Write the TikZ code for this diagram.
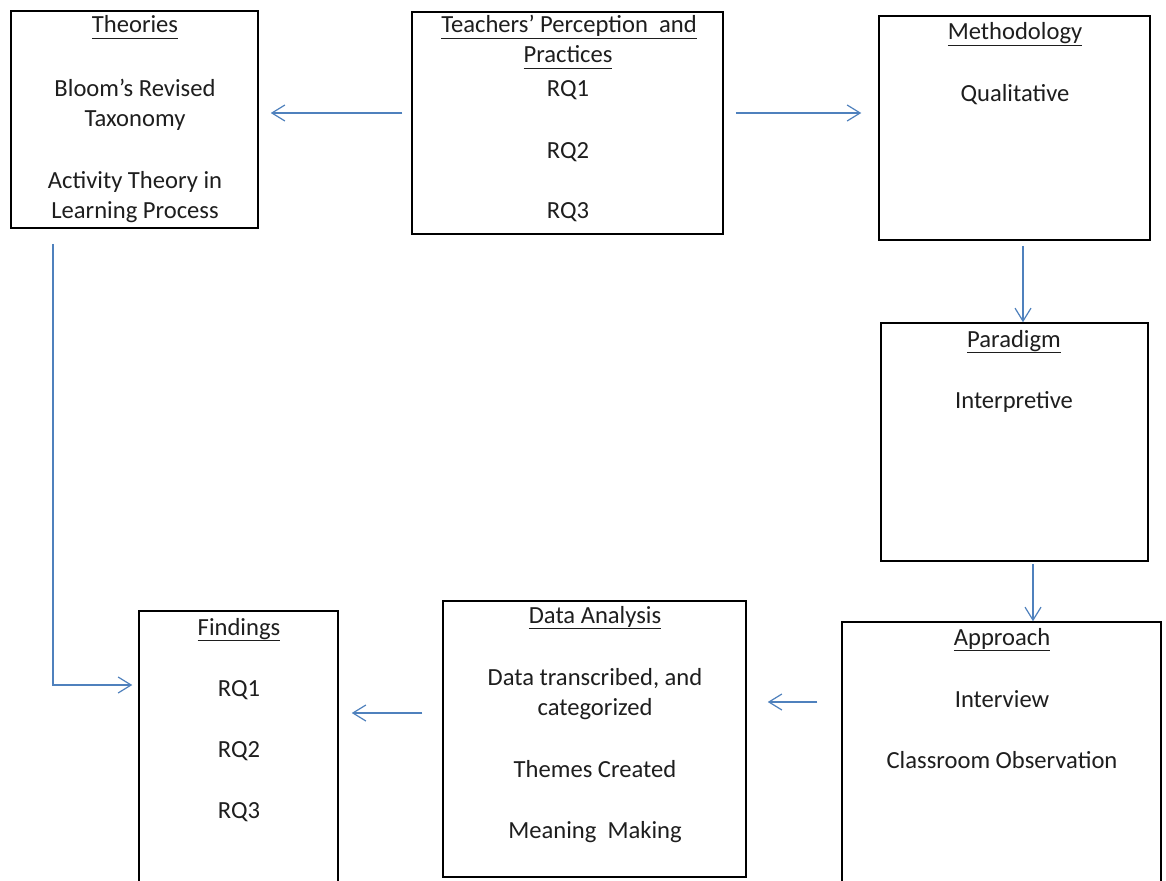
\documentclass[tikz,border=0pt]{standalone}
\usepackage{fontspec}
\setmainfont{Carlito}
\usetikzlibrary{arrows.meta}
\definecolor{arrowblue}{RGB}{79,129,189}
\definecolor{txt}{RGB}{30,30,30}
\newsavebox\ulbox
\newcommand\myul[1]{\sbox\ulbox{#1}\rlap{\rule[-6pt]{\wd\ulbox}{1.3pt}}\usebox\ulbox}
\begin{document}
\begin{tikzpicture}[x=1pt,y=-1pt,
  box/.style={draw=black,line width=1.5pt,rectangle,inner sep=0pt},
  lbl/.style={anchor=base,inner sep=0pt,text=txt,font=\fontsize{24.6}{29}\selectfont},
  arr/.style={draw=arrowblue,line width=1.2pt,-{Straight Barb[length=13pt,width=16pt,line width=1.2pt]}}]
\useasboundingbox (0,0) rectangle (1166,880);
\fill[white] (0,0) rectangle (1166,880);
\clip (0,0) rectangle (1166,880);

% boxes
\node[box,minimum width=247pt,minimum height=217pt] (theories) at (134.5,119.5) {};
\node[box,minimum width=311pt,minimum height=222pt] (teachers) at (567.5,123) {};
\node[box,minimum width=271pt,minimum height=224pt] (method) at (1014.5,128) {};
\node[box,minimum width=267pt,minimum height=238pt] (paradigm) at (1014.5,442) {};
\node[box,minimum width=319pt,minimum height=278pt] (approach) at (1001.5,761) {};
\node[box,minimum width=303pt,minimum height=276pt] (analysis) at (594.5,739) {};
\node[box,minimum width=199pt,minimum height=289pt] (findings) at (238.5,755.5) {};

% Theories
\node[lbl] (th0) at (135,33) {\myul{Theories}};
\node[lbl] (th1) at (135,97) {Bloom’s Revised};
\node[lbl] (th2) at (135,127) {Taxonomy};
\node[lbl] (th3) at (135,188) {Activity Theory in};
\node[lbl] (th4) at (135,218) {Learning Process};

% Teachers
\node[lbl] (te0) at (569,33) {\myul{Teachers’ Perception\ \ and}};
\node[lbl] (te1) at (568,63) {\myul{Practices}};
\node[lbl] (te2) at (568,97) {RQ1};
\node[lbl] (te3) at (568,158) {RQ2};
\node[lbl] (te4) at (568,218) {RQ3};

% Methodology
\node[lbl] (me0) at (1015,40) {\myul{Methodology}};
\node[lbl] (me1) at (1015,102) {Qualitative};

% Paradigm
\node[lbl] (pa0) at (1014,347) {\myul{Paradigm}};
\node[lbl] (pa1) at (1014,408) {Interpretive};

% Approach
\node[lbl] (ap0) at (1002,645) {\myul{Approach}};
\node[lbl] (ap1) at (1002,707) {Interview};
\node[lbl] (ap2) at (1002,768) {Classroom Observation};

% Data Analysis
\node[lbl] (da0) at (595,623) {\myul{Data Analysis}};
\node[lbl] (da1) at (595,685) {Data transcribed, and};
\node[lbl] (da2) at (595,715) {categorized};
\node[lbl] (da3) at (595,777) {Themes Created};
\node[lbl] (da4) at (595,838) {Meaning\ \ Making};

% Findings
\node[lbl] (fi0) at (239,635) {\myul{Findings}};
\node[lbl] (fi1) at (239,696) {RQ1};
\node[lbl] (fi2) at (239,757) {RQ2};
\node[lbl] (fi3) at (239,818) {RQ3};

% connectors
\draw[arr] ([shift={(-9pt,10pt)}]teachers.west) -- ([shift={(12pt,6.5pt)}]theories.east);
\draw[arr] ([shift={(12pt,10pt)}]teachers.east) -- ([shift={(-17pt,15pt)}]method.west);
\draw[arr] ([shift={(8.5pt,-5pt)}]method.south) -- ([xshift=8.5pt]paradigm.north);
\draw[arr] ([shift={(18.5pt,-2pt)}]paradigm.south) -- ([xshift=31.5pt]approach.north);
\draw[arr] ([shift={(-24pt,59pt)}]approach.west) -- ([shift={(21pt,37pt)}]analysis.east);
\draw[arr] ([shift={(-20pt,26pt)}]analysis.west) -- ([shift={(13pt,42.5pt)}]findings.east);
\draw[arr] ([shift={(-81.5pt,-15pt)}]theories.south) |- ([shift={(-6pt,70.5pt)}]findings.west);
\end{tikzpicture}
\end{document}
